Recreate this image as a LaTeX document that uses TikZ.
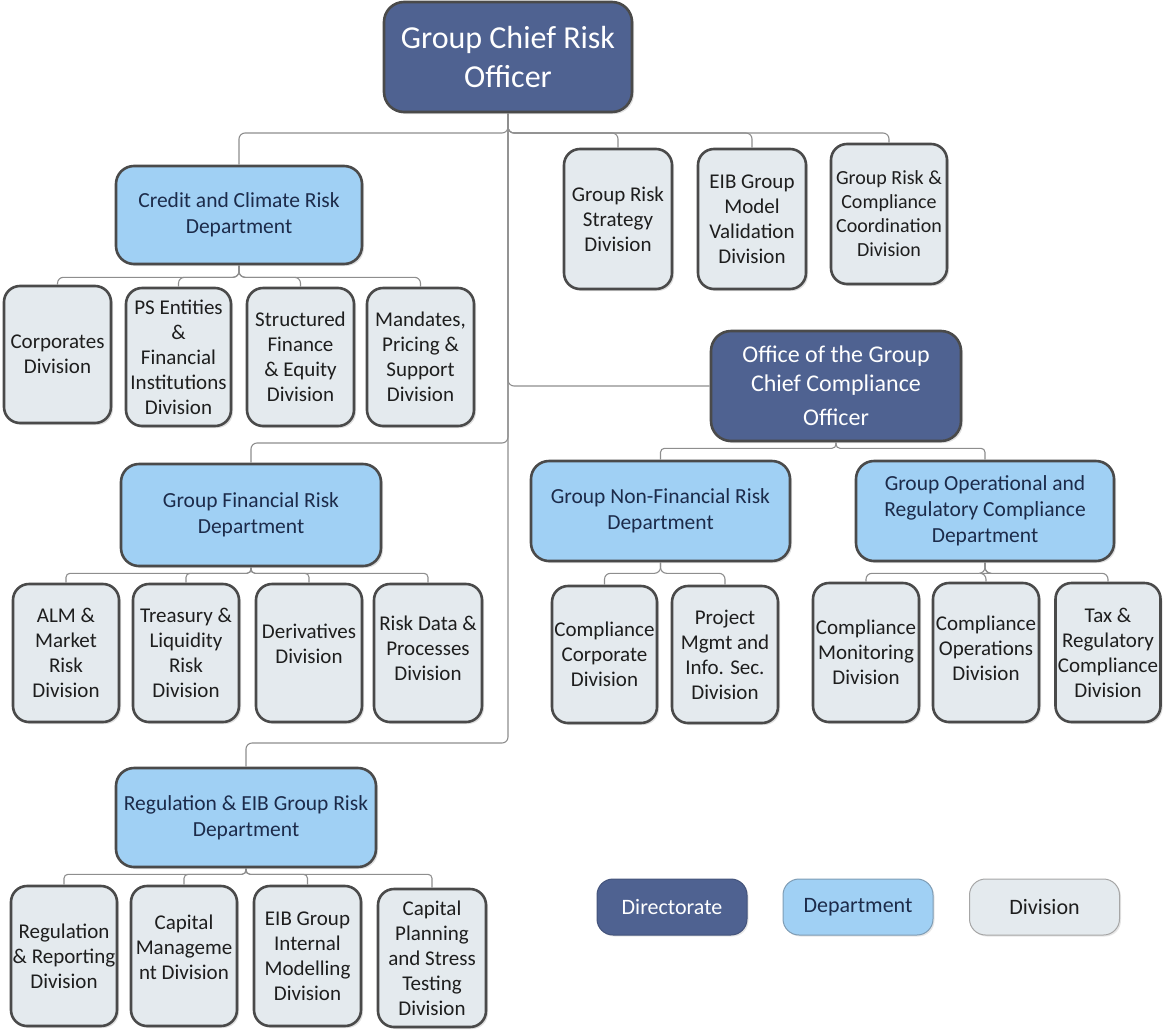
\documentclass[tikz,border=0pt]{standalone}
\usepackage{fontspec}
\setmainfont{Carlito}
\usetikzlibrary{shadows}
\definecolor{dirfill}{HTML}{4F6291}
\definecolor{deptfill}{HTML}{A0D0F4}
\definecolor{divfill}{HTML}{E4EAEE}
\definecolor{boxline}{HTML}{4A4A4A}
\definecolor{depttext}{HTML}{1C2B4A}
\definecolor{divtext}{HTML}{1E1E1E}
\definecolor{connc}{HTML}{8E8E8E}
\definecolor{legdeptline}{HTML}{7E9CB4}
\tikzset{
  basebox/.style={draw=boxline, line width=2.6pt, align=center, inner sep=1pt,
    drop shadow={shadow xshift=2pt, shadow yshift=-2pt, opacity=0.25}},
  dirbox/.style={basebox, fill=dirfill, text=white, rounded corners=20pt},
  deptbox/.style={basebox, fill=deptfill, text=depttext, rounded corners=18pt,
    font=\fontsize{21.5}{26}\selectfont},
  divbox/.style={basebox, fill=divfill, text=divtext, rounded corners=16pt,
    font=\fontsize{21}{25}\selectfont},
  legbox/.style={align=center, line width=1pt, rounded corners=16pt,
    minimum width=150pt, minimum height=56pt, font=\fontsize{22}{26}\selectfont,
    drop shadow={shadow xshift=1.5pt, shadow yshift=-1.5pt, opacity=0.2}},
  conn/.style={draw=connc, line width=1.1pt, rounded corners=6pt},
}
\begin{document}
\begin{tikzpicture}[x=1pt,y=-1pt]
\useasboundingbox (0,0) rectangle (1164,1031);

% Directorate
\node[dirbox, minimum width=248pt, minimum height=110pt, font=\fontsize{32}{39}\selectfont] (gcro) at (508,57) {Group Chief Risk\\Officer};

% Credit and Climate Risk Department
\node[deptbox, minimum width=246pt, minimum height=98pt] (credit) at (239,215) {Credit and Climate Risk\\Department};
\node[divbox, minimum width=107pt, minimum height=137pt] (corp) at (57.5,354.5) {Corporates\\Division};
\node[divbox, minimum width=105pt, minimum height=138pt] (ps) at (178.5,357) {PS Entities\\\&\\Financial\\Institutions\\Division};
\node[divbox, minimum width=107pt, minimum height=138pt] (sfe) at (300.5,357) {Structured\\Finance\\\& Equity\\Division};
\node[divbox, minimum width=107pt, minimum height=138pt] (mps) at (420.5,357) {Mandates,\\Pricing \&\\Support\\Division};

% Top right divisions
\node[divbox, minimum width=108pt, minimum height=140pt] (grs) at (618,219) {Group Risk\\Strategy\\Division};
\node[divbox, minimum width=108pt, minimum height=140pt] (mvd) at (752,219) {EIB Group\\Model\\Validation\\Division};
\node[divbox, minimum width=116pt, minimum height=140pt, font=\fontsize{20}{24}\selectfont] (grc) at (889,214) {Group Risk \&\\Compliance\\Coordination\\Division};

% Office of the Group Chief Compliance Officer
\node[dirbox, minimum width=250pt, minimum height=110pt, font=\fontsize{24}{29}\selectfont] (office) at (836,386) {Office of the Group\\Chief Compliance\\[5pt]Officer};

% Group Financial Risk Department
\node[deptbox, minimum width=260pt, minimum height=102pt] (gfr) at (251,515) {Group Financial Risk\\Department};
\node[divbox, minimum width=106pt, minimum height=138pt] (alm) at (66,653) {ALM \&\\Market\\Risk\\Division};
\node[divbox, minimum width=106pt, minimum height=138pt] (tlr) at (186,653) {Treasury \&\\Liquidity\\Risk\\Division};
\node[divbox, minimum width=106pt, minimum height=138pt] (der) at (309,653) {Derivatives\\Division\\[-7pt]};
\node[divbox, minimum width=108pt, minimum height=138pt] (rdp) at (428,653) {Risk Data \&\\Processes\\Division\\[-15pt]};

% Group Non-Financial Risk Department
\node[deptbox, minimum width=259pt, minimum height=100pt] (nfr) at (660.5,511) {Group Non-Financial Risk\\Department};
\node[divbox, minimum width=105pt, minimum height=137pt] (ccd) at (604.5,654.5) {Compliance\\Corporate\\Division};
\node[divbox, minimum width=106pt, minimum height=137pt] (pmi) at (725,654.5) {Project\\Mgmt and\\Info. Sec.\\Division};

% Group Operational and Regulatory Compliance Department
\node[deptbox, minimum width=258pt, minimum height=100pt] (orc) at (985,511) {Group Operational and\\Regulatory Compliance\\Department};
\node[divbox, minimum width=106pt, minimum height=139pt] (cmd) at (866,652.5) {Compliance\\Monitoring\\Division};
\node[divbox, minimum width=106pt, minimum height=139pt] (cod) at (986,652.5) {Compliance\\Operations\\Division\\[-16pt]};
\node[divbox, minimum width=105pt, minimum height=139pt] (trc) at (1108,652.5) {Tax \&\\Regulatory\\Compliance\\Division};

% Regulation & EIB Group Risk Department
\node[deptbox, minimum width=260pt, minimum height=99pt] (reg) at (246,817.5) {Regulation \& EIB Group Risk\\Department};
\node[divbox, minimum width=106pt, minimum height=140pt] (rrd) at (64,956) {Regulation\\\& Reporting\\Division};
\node[divbox, minimum width=106pt, minimum height=140pt] (cmg) at (184,956) {Capital\\Manageme\\nt Division\\[-7pt]};
\node[divbox, minimum width=107pt, minimum height=140pt] (eim) at (307.5,956) {EIB Group\\Internal\\Modelling\\Division};
\node[divbox, minimum width=108pt, minimum height=138pt] (cps) at (432,958) {Capital\\Planning\\and Stress\\Testing\\Division};

% Legend
\node[legbox, fill=dirfill, draw=dirfill!85!black, text=white] (lgdir) at (672,907) {Directorate};
\node[legbox, fill=deptfill, draw=legdeptline, text=depttext] (lgdept) at (858,907) {Department};
\node[legbox, fill=divfill, draw=gray!70, text=divtext] (lgdiv) at (1044.5,907) {Division};

% Connectors: from the Group Chief Risk Officer
\coordinate (jtop) at (508,133);
\coordinate (jgfr) at (508,443);
\coordinate (jreg) at (508,743);
\draw[conn] (gcro.south) -- (jtop) -| (credit.north);
\draw[conn] (gcro.south) -- (jtop) -| (grs.north);
\draw[conn] (gcro.south) -- (jtop) -| (mvd.north);
\draw[conn] (gcro.south) -- (jtop) -| (grc.north);
\draw[conn] (gcro.south) |- (office.west);
\draw[conn] (gcro.south) -- (jgfr) -| (gfr.north);
\draw[conn] (gcro.south) -- (jreg) -| (reg.north);

% Credit and Climate Risk Department
\foreach \c in {corp,ps,sfe,mps}
  \draw[conn] (credit.south) -- ++(0,12) -| (\c.north);
% Group Financial Risk Department
\foreach \c in {alm,tlr,der,rdp}
  \draw[conn, rounded corners=4pt] (gfr.south) -- ++(0,6) -| (\c.north);
% Office
\foreach \c in {nfr,orc}
  \draw[conn, rounded corners=4pt] (office.south) -- ++(0,6) -| (\c.north);
\foreach \c in {ccd,pmi}
  \draw[conn] (nfr.south) -- ++(0,11) -| (\c.north);
\foreach \c in {cmd,cod,trc}
  \draw[conn] (orc.south) -- ++(0,11) -| (\c.north);
% Regulation
\foreach \c in {rrd,cmg,eim,cps}
  \draw[conn, rounded corners=4pt] (reg.south) -- ++(0,6) -| (\c.north);
\end{tikzpicture}
\end{document}
